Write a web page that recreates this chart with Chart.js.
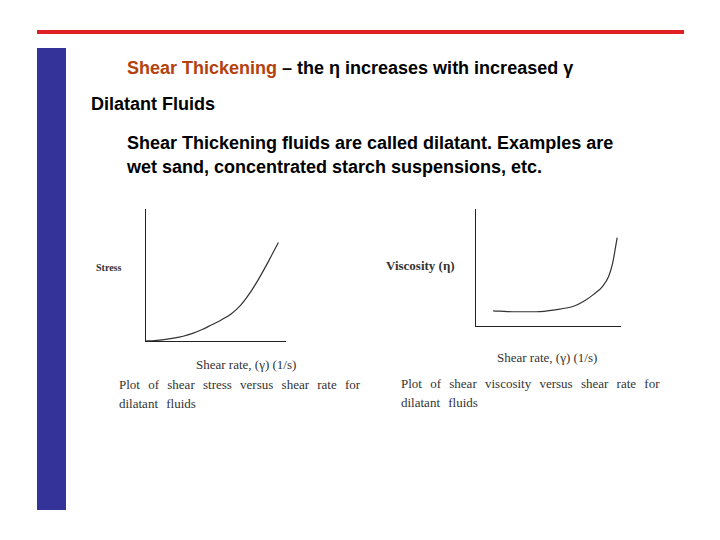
<!DOCTYPE html>
<html>
<head>
<meta charset="utf-8">
<script src="https://cdn.jsdelivr.net/npm/chart.js@4"></script>
<style>
body { margin:0; width:720px; height:540px; background:#fff; position:relative; overflow:hidden; font-family:Arial, "Liberation Sans", sans-serif; }
.abs { position:absolute; white-space:nowrap; }
.serif { font-family:"Times New Roman", "Liberation Serif", serif; color:#333; }
.big { font-size:18px; font-weight:bold; }
canvas { position:absolute; }
</style>
</head>
<body>
<div class="abs" style="left:37px;top:30px;width:647px;height:4px;background:#e02020"></div>
<div class="abs" style="left:37px;top:48px;width:29px;height:462px;background:#333399"></div>

<div class="abs big" style="left:127px;top:58px"><span style="color:#b5410c">Shear Thickening</span> – the η increases with increased γ</div>
<div class="abs big" style="left:91px;top:94px">Dilatant Fluids</div>
<div class="abs big" style="left:127px;top:131px;line-height:24px">Shear Thickening fluids are called dilatant. Examples are<br>wet sand, concentrated starch suspensions, etc.</div>

<div class="abs serif" style="left:96px;top:262px;font-size:10px;font-weight:bold">Stress</div>
<div class="abs serif" style="left:196px;top:357px;font-size:13px">Shear rate, (γ) (1/s)</div>
<div class="abs serif" style="left:119px;top:375px;font-size:13px;line-height:19px;word-spacing:5px">Plot of shear stress versus shear rate for<br>dilatant fluids</div>

<div class="abs serif" style="left:386px;top:258px;font-size:13px;font-weight:bold">Viscosity (η)</div>
<div class="abs serif" style="left:497px;top:350px;font-size:13px">Shear rate, (γ) (1/s)</div>
<div class="abs serif" style="left:401px;top:374px;font-size:13px;line-height:19px;word-spacing:5px">Plot of shear viscosity versus shear rate for<br>dilatant fluids</div>

<canvas id="stressChart" style="left:136px;top:209px;width:150px;height:141px"></canvas>
<canvas id="viscChart" style="left:466px;top:209px;width:155px;height:126px"></canvas>

<script>
// shear stress vs shear rate
const stressX = [0, 10, 20, 30, 40, 50, 60, 70, 80, 90, 100, 110, 120, 130, 140];
const stressY = [0, 0.5, 1.5, 3, 5, 8, 12, 17, 22, 28, 37, 50, 66, 84, 103];

// viscosity vs shear rate
const viscX = [19, 40, 64, 84, 104, 114, 124, 134, 140, 144, 149];
const viscY = [16, 15, 15, 17, 21, 26, 33, 42, 52, 65, 93];

function pts(xs, ys) {
    return xs.map((x, i) => ({ x: x, y: ys[i] }));
}

function drawPlot(id, xs, ys, xMax, yMax) {
    const ctx = document.getElementById(id).getContext("2d");
    return new Chart(ctx, {
        type: 'line',
        data: {
            datasets: [{
                data: pts(xs, ys),
                borderColor: '#333',
                borderWidth: 1.2,
                pointRadius: 0,
                cubicInterpolationMode: 'monotone',
                fill: false
            }]
        },
        options: {
            responsive: false,
            animation: false,
            layout: { padding: { left: 1, bottom: 1, top: 0, right: 0 } },
            scales: {
                x: {
                    type: 'linear', min: 0, max: xMax,
                    ticks: { display: false },
                    grid: { display: false },
                    border: { color: '#222', width: 1 }
                },
                y: {
                    min: 0, max: yMax,
                    ticks: { display: false },
                    grid: { display: false },
                    border: { color: '#222', width: 1 }
                }
            },
            plugins: { legend: { display: false }, tooltip: { enabled: false } }
        }
    });
}

drawPlot("stressChart", stressX, stressY, 148, 138);
drawPlot("viscChart", viscX, viscY, 153, 123);
</script>
</body>
</html>
